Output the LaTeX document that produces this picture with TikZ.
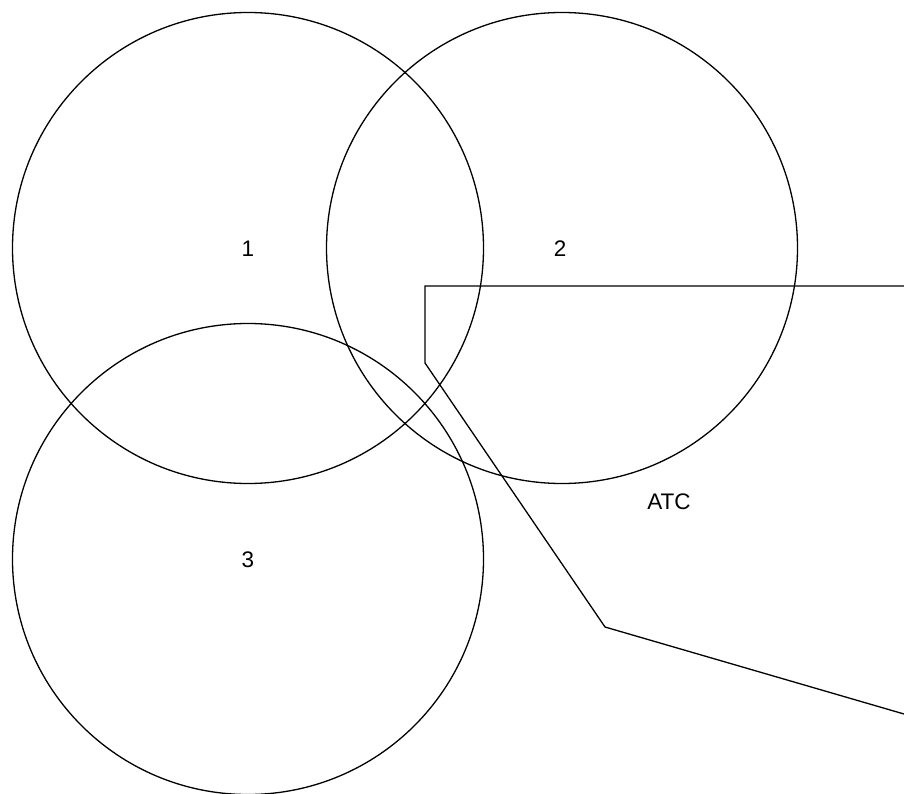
\documentclass[tikz,border=0pt]{standalone}
\usepackage{fontspec}
\setmainfont{Liberation Sans}
\begin{document}
\begin{tikzpicture}[x=1pt,y=-1pt,
  ring/.style={draw=black,line width=1.3pt,circle,minimum size=471pt,inner sep=0pt},
  lbl/.style={font=\fontsize{22.5}{25}\selectfont,inner sep=0pt},
  wire/.style={draw=black,line width=1.3pt,line join=miter}]
\useasboundingbox (0,0) rectangle (904,794);
\node[ring] (c1) at (248,248) {};
\node[ring] (c2) at (562,248) {};
\node[ring] (c3) at (248,559) {};
\node[lbl] (t1) at (248,249) {1};
\node[lbl] (t2) at (560,249) {2};
\node[lbl] (t3) at (248,560) {3};
\node[lbl] (atc) at (669,502) {ATC};
\coordinate (p0) at (904,286);
\coordinate (p1) at (425,286);
\coordinate (p2) at (425,363);
\coordinate (p3) at (605,627);
\coordinate (p4) at (904,714);
\draw[wire] (p0) -- (p1) -- (p2) -- (p3) -- (p4);
\end{tikzpicture}
\end{document}
